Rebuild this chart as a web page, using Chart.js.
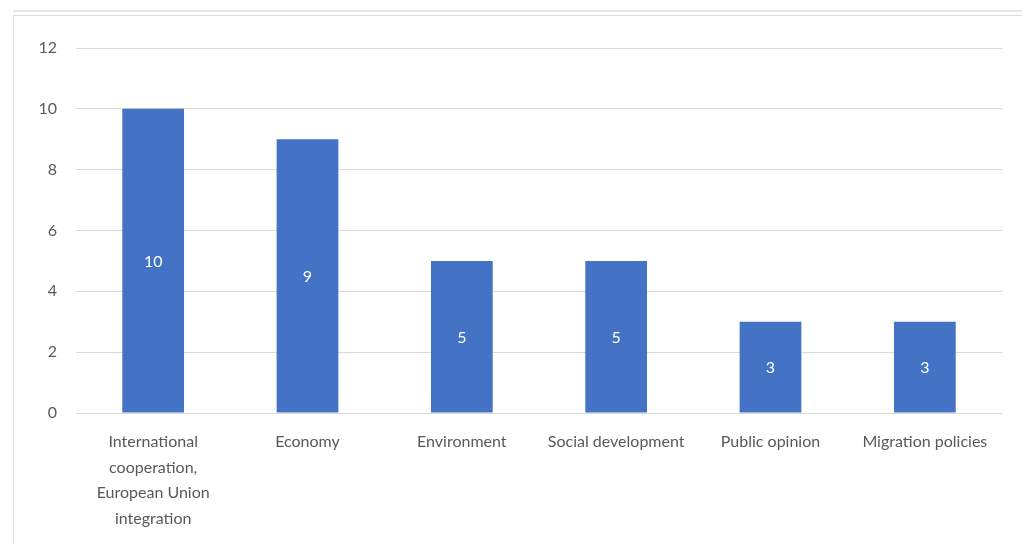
<!DOCTYPE html>
<html>
<head>
<meta charset="utf-8">
<script src="https://cdn.jsdelivr.net/npm/chart.js@4.4.1/dist/chart.umd.min.js"></script>
<style>
  html, body { margin: 0; padding: 0; background: #ffffff; }
  #wrap { position: relative; width: 1022px; height: 544px; overflow: hidden; }
  #frameTop { position: absolute; left: 13px; right: 0; top: 10px; height: 0; border-top: 2px solid #e6e6e6; }
  #frameInner { position: absolute; left: 13px; right: 0; top: 15px; bottom: -5px; border-top: 1px solid #dcdcdc; border-left: 1px solid #dcdcdc; }
  #chart_canvas { position: absolute; left: 0; top: 0; }
</style>
</head>
<body>
<div id="wrap">
  <div id="frameTop"></div>
  <div id="frameInner"></div>
  <canvas id="chart_canvas" width="1022" height="544"></canvas>
</div>
<script>
const categories = [
  ["International", "cooperation,", "European Union", "integration"],
  "Economy",
  "Environment",
  "Social development",
  "Public opinion",
  "Migration policies"
];
const counts = [10, 9, 5, 5, 3, 3];
const yTicks = [0, 2, 4, 6, 8, 10, 12];

const fontFamily = "Lato, 'Open Sans', sans-serif";

// write each value in white at the middle of its bar
const barValueLabels = {
  id: "barValueLabels",
  afterDatasetsDraw(chart)
  {
    const ctx = chart.ctx;
    const meta = chart.getDatasetMeta(0);
    ctx.save();
    ctx.fillStyle = "#ffffff";
    ctx.font = "16px " + fontFamily;
    ctx.textAlign = "center";
    ctx.textBaseline = "middle";
    meta.data.forEach((bar, i) => {
      const mid = (bar.y + bar.base) / 2;
      ctx.fillText(String(counts[i]), bar.x, mid + 1);
    });
    ctx.restore();
  }
};

const config =
{
  type: "bar",
  data: {
    labels: categories,
    datasets: [{
      data: counts,
      backgroundColor: "#4472C4",
      borderWidth: 0,
      categoryPercentage: 1.0,
      barPercentage: 0.4
    }]
  },
  options: {
    responsive: false,
    animation: false,
    layout: { padding: { left: 0, right: 20, top: 48, bottom: 0 } },
    plugins: {
      legend: { display: false },
      tooltip: { enabled: false }
    },
    scales: {
      x: {
        grid: { display: false },
        border: { display: false },
        ticks: {
          color: "#595959",
          font: { family: fontFamily, size: 16, lineHeight: 1.6 },
          padding: 8,
          maxRotation: 0,
          autoSkip: false
        },
        afterFit(scale) { scale.height = 131; }
      },
      y: {
        min: 0,
        max: 12,
        afterBuildTicks(scale) { scale.ticks = yTicks.map(v => ({value: v})); },
        grid: { color: "#d9d9d9", lineWidth: 1, drawTicks: false },
        border: { display: false },
        ticks: {
          color: "#595959",
          font: { family: fontFamily, size: 16 },
          padding: 19
        },
        afterFit(scale) { scale.width = 76; }
      }
    }
  },
  plugins: [barValueLabels]
};

new Chart(document.getElementById("chart_canvas"), config);
</script>
</body>
</html>
